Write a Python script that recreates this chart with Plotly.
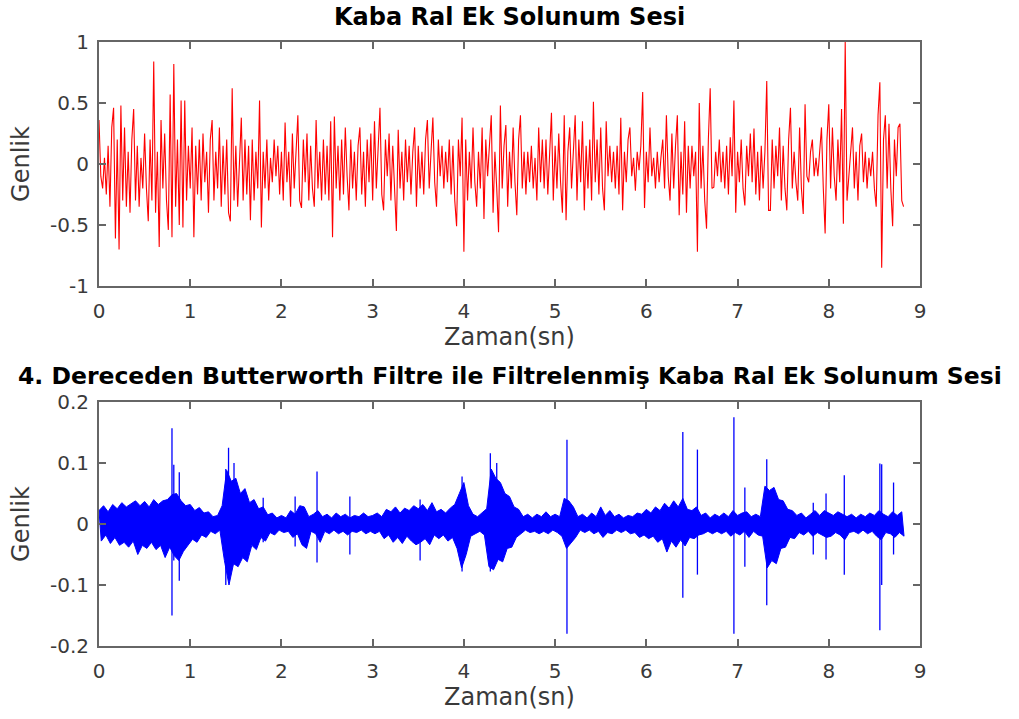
import numpy as np
import plotly.graph_objects as go

# ---------------- data ----------------
title_top = "Kaba Ral Ek Solunum Sesi"
title_bot = "4. Dereceden Butterworth Filtre ile Filtrelenmiş Kaba Ral Ek Solunum Sesi"
x_label = "Zaman(sn)"
y_label = "Genlik"

x_ticks = [0, 1, 2, 3, 4, 5, 6, 7, 8, 9]
y_ticks_top = [-1, -0.5, 0, 0.5, 1]
y_ticklabels_top = ["-1", "-0.5", "0", "0.5", "1"]
y_ticks_bot = [-0.2, -0.1, 0, 0.1, 0.2]
y_ticklabels_bot = ["-0.2", "-0.1", "0", "0.1", "0.2"]

# raw breathing sound, one value every 0.02 s
red_dt = 0.02
red_values = [
    0.36, -0.1, -0.2, 0.05, -0.25, 0.15, -0.35, 0.3, 0.46, -0.61, 0.2, -0.7, 0.48, -0.3, 0.3, -0.35, 0.1, -0.4, 0.2, 0.45, -0.3, 0.15, -0.35, 0.05, -0.2,
    0.25, -0.2, -0.47, 0.2, -0.3, 0.84, -0.4, 0.1, -0.68, 0.36, -0.2, 0.25, -0.3, -0.54, 0.57, -0.6, 0.82, -0.35, 0.2, -0.5, 0.52, -0.52, 0.52, -0.3, 0.15,
    -0.2, 0.3, -0.6, 0.15, -0.25, 0.2, -0.3, 0.25, -0.15, 0.1, -0.4, 0.2, 0.36, -0.3, 0.1, -0.2, 0.3, -0.35, 0.15, -0.25, 0.2, -0.4, -0.47, 0.62, -0.3,
    0.15, -0.35, 0.1, 0.38, -0.3, 0.2, -0.25, 0.15, -0.46, 0.2, -0.3, 0.1, -0.2, 0.52, -0.52, 0.1, -0.2, 0.2, -0.3, 0.05, -0.15, 0.2, -0.1, 0.15, -0.25,
    0.1, -0.3, 0.34, -0.15, 0.1, -0.35, 0.25, -0.2, 0.05, 0.4, -0.3, -0.36, 0.2, -0.15, 0.25, -0.3, 0.15, -0.2, -0.35, 0.36, -0.2, 0.1, -0.3, 0.2, -0.25,
    0.15, -0.3, 0.35, -0.6, 0.39, -0.2, 0.15, -0.3, 0.2, -0.25, 0.3, -0.1, -0.38, 0.2, -0.2, 0.1, -0.3, 0.15, 0.3, -0.25, 0.1, -0.35, 0.2, -0.15, 0.25,
    -0.3, 0.35, -0.2, 0.1, 0.46, -0.25, -0.38, 0.2, -0.1, 0.25, -0.3, 0.15, -0.2, -0.55, 0.28, -0.2, 0.1, -0.3, 0.2, -0.15, 0.15, -0.25, 0.1, 0.3, -0.35,
    0.15, -0.2, 0.1, -0.25, 0.2, 0.36, -0.2, 0.1, 0.38, -0.15, -0.35, 0.2, -0.1, 0.15, -0.2, 0.1, -0.15, 0.2, -0.25, 0.15, -0.3, -0.51, 0.2, -0.1, 0.38,
    -0.72, 0.2, -0.3, 0.1, -0.2, 0.3, -0.15, -0.35, 0.1, -0.2, 0.3, -0.45, 0.2, -0.1, 0.15, 0.4, -0.4, 0.1, -0.2, -0.56, 0.48, -0.2, 0.15, 0.32, -0.35,
    0.1, -0.2, 0.3, -0.15, -0.42, 0.2, 0.4, -0.2, 0.1, -0.25, 0.1, -0.15, 0.15, -0.2, 0.05, -0.3, 0.3, -0.15, 0.2, -0.2, 0.2, -0.25, 0.1, 0.42, -0.3,
    0.15, -0.2, 0.25, -0.15, -0.4, 0.4, -0.46, 0.1, 0.3, -0.2, 0.15, 0.4, -0.3, 0.2, -0.15, 0.35, -0.38, 0.15, -0.2, 0.2, -0.3, 0.51, -0.15, 0.2, -0.25,
    0.3, -0.2, -0.38, 0.35, -0.1, 0.15, -0.15, 0.1, -0.2, 0.15, -0.25, 0.38, -0.38, 0.1, -0.15, 0.2, 0.3, -0.1, 0.05, -0.22, 0.1, -0.05, 0.15, 0.59, -0.36,
    0.1, -0.15, 0.3, -0.1, 0.05, -0.2, 0.1, -0.15, 0.05, 0.2, -0.2, 0.4, -0.1, -0.3, 0.25, -0.2, 0.15, 0.4, -0.42, 0.1, -0.25, 0.35, -0.4, 0.15, -0.2,
    0.15, -0.1, 0.1, -0.72, 0.5, -0.2, 0.15, -0.3, -0.53, 0.2, 0.62, -0.2, -0.19, 0.1, -0.1, 0.2, -0.15, 0.1, -0.2, 0.15, -0.25, 0.22, -0.1, 0.52, -0.4,
    0.1, -0.15, 0.2, -0.2, -0.34, 0.15, -0.1, 0.25, -0.15, 0.29, -0.25, 0.1, -0.3, 0.15, -0.2, 0.1, 0.68, -0.38, -0.38, 0.2, -0.2, 0.15, -0.1, 0.3, -0.3,
    0.15, -0.2, -0.38, 0.2, 0.46, -0.2, 0.1, -0.15, -0.3, 0.3, -0.2, -0.41, 0.49, -0.1, -0.15, 0.1, 0.2, -0.1, 0.05, -0.1, 0.15, 0.3, -0.2, -0.57, 0.2,
    0.49, -0.2, 0.3, -0.1, -0.3, 0.2, -0.15, 0.45, -0.49, 1.0, -0.3, -0.1, 0.1, 0.3, -0.2, 0.1, -0.3, 0.15, 0.25, -0.15, 0.1, -0.2, 0.05, -0.1, 0.1,
    -0.2, -0.35, 0.4, 0.67, -0.85, 0.2, 0.4, -0.2, 0.33, -0.2, -0.51, 0.2, -0.1, 0.3, 0.33, -0.3, -0.35,
]

# filtered sound: upper envelope at t = 0, 0.05, ..., lower envelope at t = 0.025, 0.075, ...
env_dt = 0.05
env_upper = [
    0.022, 0.03, 0.02, 0.032, 0.025, 0.035, 0.028, 0.033, 0.038, 0.03, 0.037, 0.028, 0.04, 0.032, 0.038, 0.04, 0.048, 0.05, 0.038, 0.03,
    0.032, 0.022, 0.027, 0.018, 0.02, 0.012, 0.014, 0.03, 0.088, 0.07, 0.075, 0.05, 0.058, 0.035, 0.04, 0.025, 0.028, 0.015, 0.018, 0.01,
    0.014, 0.01, 0.022, 0.016, 0.03, 0.028, 0.012, 0.016, 0.022, 0.012, 0.016, 0.01, 0.018, 0.012, 0.016, 0.01, 0.014, 0.012, 0.018, 0.012,
    0.014, 0.018, 0.012, 0.024, 0.02, 0.028, 0.018, 0.026, 0.022, 0.03, 0.025, 0.032, 0.022, 0.035, 0.02, 0.024, 0.018, 0.026, 0.032, 0.05,
    0.068, 0.03, 0.016, 0.012, 0.018, 0.025, 0.09, 0.075, 0.068, 0.05, 0.045, 0.028, 0.024, 0.012, 0.016, 0.01, 0.016, 0.012, 0.02, 0.012,
    0.016, 0.012, 0.042, 0.038, 0.028, 0.012, 0.016, 0.01, 0.018, 0.012, 0.028, 0.014, 0.022, 0.012, 0.016, 0.01, 0.014, 0.012, 0.018, 0.016,
    0.024, 0.018, 0.028, 0.022, 0.034, 0.026, 0.038, 0.028, 0.042, 0.024, 0.022, 0.028, 0.014, 0.018, 0.01, 0.016, 0.012, 0.018, 0.012, 0.022,
    0.014, 0.018, 0.02, 0.012, 0.016, 0.012, 0.062, 0.055, 0.06, 0.04, 0.038, 0.024, 0.022, 0.014, 0.018, 0.01, 0.016, 0.022, 0.014, 0.022,
    0.018, 0.014, 0.02, 0.016, 0.012, 0.016, 0.01, 0.016, 0.012, 0.018, 0.014, 0.022, 0.016, 0.012, 0.02, 0.014, 0.02,
]
env_lower = [
    -0.028, -0.018, -0.032, -0.022, -0.035, -0.03, -0.038, -0.028, -0.05, -0.035, -0.04, -0.03, -0.042, -0.035, -0.055, -0.038, -0.052, -0.06, -0.045, -0.035,
    -0.025, -0.03, -0.018, -0.022, -0.012, -0.016, -0.01, -0.06, -0.1, -0.065, -0.07, -0.055, -0.062, -0.035, -0.042, -0.022, -0.028, -0.014, -0.018, -0.01,
    -0.014, -0.012, -0.022, -0.016, -0.034, -0.04, -0.012, -0.016, -0.03, -0.012, -0.016, -0.01, -0.016, -0.012, -0.018, -0.012, -0.014, -0.01, -0.016, -0.012,
    -0.016, -0.012, -0.024, -0.018, -0.03, -0.022, -0.032, -0.02, -0.028, -0.034, -0.03, -0.024, -0.034, -0.018, -0.024, -0.018, -0.028, -0.022, -0.04, -0.072,
    -0.05, -0.02, -0.016, -0.012, -0.018, -0.07, -0.075, -0.058, -0.062, -0.04, -0.038, -0.022, -0.016, -0.01, -0.014, -0.012, -0.016, -0.012, -0.016, -0.01,
    -0.014, -0.02, -0.04, -0.032, -0.022, -0.01, -0.014, -0.01, -0.016, -0.012, -0.022, -0.014, -0.016, -0.01, -0.014, -0.01, -0.016, -0.014, -0.022, -0.018,
    -0.024, -0.02, -0.03, -0.024, -0.046, -0.028, -0.038, -0.026, -0.036, -0.022, -0.024, -0.018, -0.016, -0.012, -0.016, -0.012, -0.016, -0.012, -0.02, -0.014,
    -0.018, -0.012, -0.022, -0.012, -0.018, -0.02, -0.072, -0.06, -0.065, -0.04, -0.038, -0.022, -0.024, -0.014, -0.018, -0.012, -0.02, -0.014, -0.018, -0.022,
    -0.02, -0.014, -0.018, -0.026, -0.014, -0.012, -0.016, -0.01, -0.016, -0.012, -0.02, -0.026, -0.014, -0.016, -0.022, -0.014, -0.02,
]

# isolated spikes of the filtered sound
spike_t = [0.80, 0.82, 0.88, 1.39, 1.42, 1.48, 1.50, 1.80, 2.15, 2.39, 2.75, 3.52, 3.98, 4.29, 4.36,
           5.13, 6.40, 6.56, 6.96, 7.08, 7.32, 7.83, 7.97, 8.17, 8.56, 8.58, 8.71]
spike_top = [0.157, 0.097, 0.085, 0.09, 0.125, 0.10, 0.06, 0.043, 0.045, 0.086, 0.045, 0.04, 0.078, 0.116, 0.10,
             0.138, 0.151, 0.122, 0.175, 0.06, 0.106, 0.035, 0.05, 0.08, 0.099, 0.098, 0.068]
spike_bot = [-0.150, -0.06, -0.093, -0.10, -0.08, -0.06, -0.055, -0.03, -0.037, -0.063, -0.05, -0.06, -0.078, -0.078, -0.06,
             -0.18, -0.121, -0.083, -0.18, -0.07, -0.133, -0.05, -0.058, -0.083, -0.174, -0.10, -0.05]

# ---------------- build traces ----------------
red_t = np.arange(len(red_values)) * red_dt
up_t = [i * env_dt for i in range(len(env_upper))]
lo_t = [i * env_dt + env_dt / 2 for i in range(len(env_lower))]

# solid band between the envelopes (polygon: upper forward, lower backward)
band_x = up_t + lo_t[::-1] + [up_t[0]]
band_y = env_upper + env_lower[::-1] + [env_upper[0]]

sp_x, sp_y = [], []
for t, hi, lo in zip(spike_t, spike_top, spike_bot):
    sp_x += [t, t, None]
    sp_y += [lo, hi, None]

W, H = 1019, 719
FONT = "DejaVu Sans"
AX_COL = "#666666"
TXT_COL = "#3a3a3a"
BLUE = "#0000ff"

fig = go.Figure()
fig.add_trace(go.Scatter(x=red_t, y=red_values, mode="lines",
                         line=dict(color="#ff0000", width=1.1), xaxis="x", yaxis="y",
                         showlegend=False, hoverinfo="skip"))
fig.add_trace(go.Scatter(x=band_x, y=band_y, mode="lines", fill="toself", fillcolor=BLUE,
                         line=dict(color=BLUE, width=1), xaxis="x2", yaxis="y2",
                         showlegend=False, hoverinfo="skip"))
fig.add_trace(go.Scatter(x=sp_x, y=sp_y, mode="lines",
                         line=dict(color=BLUE, width=1.3), xaxis="x2", yaxis="y2",
                         showlegend=False, hoverinfo="skip"))

def xaxis_style(domain, anchor):
    return dict(domain=domain, anchor=anchor, range=[0, 9], tickvals=x_ticks,
                ticktext=[str(v) for v in x_ticks], automargin=False,
                showline=True, linecolor=AX_COL, linewidth=2, mirror="ticks",
                ticks="inside", ticklen=7, tickwidth=1.5, tickcolor=AX_COL,
                showgrid=False, zeroline=False,
                tickfont=dict(family=FONT, size=20, color=TXT_COL),
                ticklabelstandoff=6,
                title=dict(text=x_label, font=dict(family=FONT, size=24, color=TXT_COL), standoff=6))

def yaxis_style(domain, anchor, rng, tv, tt):
    return dict(domain=domain, anchor=anchor, range=rng, tickvals=tv, ticktext=tt,
                automargin=False,
                showline=True, linecolor=AX_COL, linewidth=2, mirror="ticks",
                ticks="inside", ticklen=7, tickwidth=1.5, tickcolor=AX_COL,
                showgrid=False, zeroline=False,
                tickfont=dict(family=FONT, size=20, color=TXT_COL),
                ticklabelstandoff=4,
                title=dict(text=y_label, font=dict(family=FONT, size=24, color=TXT_COL), standoff=14))

xd = [99 / W, 920 / W]
y_top_dom = [1 - 286 / H, 1 - 42 / H]
y_bot_dom = [1 - 646 / H, 1 - 402 / H]

fig.update_layout(
    width=W, height=H,
    margin=dict(l=0, r=0, t=0, b=0, autoexpand=False),
    paper_bgcolor="white", plot_bgcolor="white",
    xaxis=xaxis_style(xd, "y"),
    yaxis=yaxis_style(y_top_dom, "x", [-1, 1], y_ticks_top, y_ticklabels_top),
    xaxis2=xaxis_style(xd, "y2"),
    yaxis2=yaxis_style(y_bot_dom, "x2", [-0.2, 0.2], y_ticks_bot, y_ticklabels_bot),
    annotations=[
        dict(text="<b>" + title_top + "</b>", x=(xd[0] + xd[1]) / 2, y=1 - 17 / H,
             xref="paper", yref="paper", showarrow=False, xanchor="center", yanchor="middle",
             font=dict(family=FONT, size=24, color="black")),
        dict(text="<b>" + title_bot + "</b>", x=(xd[0] + xd[1]) / 2, y=1 - 376 / H,
             xref="paper", yref="paper", showarrow=False, xanchor="center", yanchor="middle",
             font=dict(family=FONT, size=23.5, color="black")),
    ],
)

fig.write_html("out.html", config={"displayModeBar": False},
               post_script="document.body.style.margin='0px';")
